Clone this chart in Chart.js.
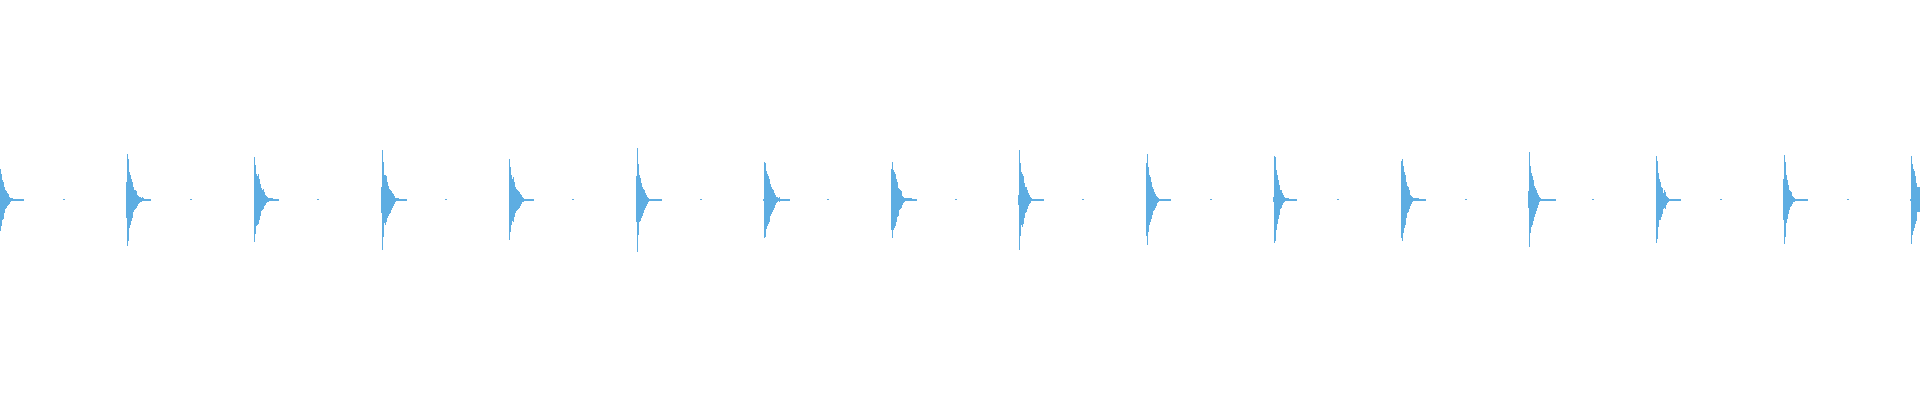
<!DOCTYPE html>
<html>
<head>
<meta charset="utf-8">
<script src="https://cdn.jsdelivr.net/npm/chart.js@4.4.1/dist/chart.umd.min.js"></script>
<style>
  html, body { margin: 0; padding: 0; background: #fff; }
  #wrap { width: 1920px; height: 400px; }
</style>
</head>
<body>
<div id="wrap"><canvas id="wave"></canvas></div>
<script>
const sampleCount = 1920;

// first column of every click
const clickStarts = [0, 126, 254, 381, 509, 636, 763, 891, 1018, 1146, 1273, 1401, 1528, 1656, 1783, 1910];

// level above zero (% of full scale), column by column after each click
const clickPeaks = [
  [15.5, 13, 10, 9, 6.5, 5, 4.5, 3.5, 3, 1.5, 1, 1, 1, 0.5, 0.5, 0.5, 0.5, 0.5, 0.5, 0.5, 0.5, 0.5, 0.5, 0.5],
  [9, 23, 20.5, 14, 12.5, 10.5, 9, 6.5, 5, 5, 4.5, 2.5, 2, 1.5, 1.5, 1, 1.5, 1, 0.5, 0.5, 0.5, 0.5, 0.5, 0.5, 0.5],
  [21.5, 17.5, 13, 12, 13, 10.5, 8, 6, 5, 5.5, 4, 2.5, 2, 1.5, 1, 1, 1, 1, 1, 0.5, 0.5, 0.5, 0.5, 0.5, 0.5],
  [6.5, 25, 19, 12.5, 12.5, 12, 9, 7, 5.5, 5, 4.5, 3.5, 3, 2, 1, 1, 1, 1, 0.5, 0.5, 0.5, 0.5, 0.5, 0.5, 0.5, 0.5],
  [20.5, 16.5, 12.5, 10.5, 11.5, 9, 6.5, 5.5, 5, 4.5, 4, 3, 2.5, 1.5, 1, 0.5, 0.5, 0.5, 0.5, 0.5, 0.5, 0.5, 0.5, 0.5, 0.5],
  [12, 26, 18, 12.5, 11, 8.5, 6.5, 5.5, 5, 3.5, 2.5, 1.5, 1, 0.5, 0.5, 0.5, 0.5, 0.5, 0.5, 0.5, 0.5, 0.5, 0.5, 0.5, 0.5, 0.5],
  [0.5, 19, 18.5, 14.5, 13, 12, 10.5, 8, 6.5, 5.5, 5, 3.5, 2.5, 1.5, 1.5, 1, 1.5, 0.5, 0.5, 0.5, 0.5, 0.5, 0.5, 0.5, 0.5, 0.5, 0.5],
  [15.5, 19, 15, 14, 13, 10.5, 9, 6, 5.5, 5, 4.5, 2, 1.5, 1, 1, 1, 1, 1, 1, 1, 1, 0.5, 0.5, 0.5, 0.5, 0.5],
  [2.5, 25, 18.5, 14, 13, 12, 8.5, 6.5, 6.5, 5, 3.5, 2.5, 1.5, 1, 0.5, 0.5, 0.5, 0.5, 0.5, 0.5, 0.5, 0.5, 0.5, 0.5, 0.5, 0.5],
  [18.5, 23, 16.5, 12.5, 11.5, 9, 6.5, 5.5, 4, 3, 2, 1.5, 1, 0.5, 0.5, 0.5, 0.5, 0.5, 0.5, 0.5, 0.5, 0.5, 0.5, 0.5, 0.5],
  [1.5, 22, 21.5, 15, 12.5, 10, 7.5, 5, 5, 3.5, 2.5, 1.5, 1, 1, 1, 1, 0.5, 0.5, 0.5, 0.5, 0.5, 0.5, 0.5, 0.5],
  [19.5, 20.5, 17, 14, 12.5, 9, 7, 6.5, 5, 2.5, 2, 1.5, 1, 1, 1, 1, 1, 1, 0.5, 0.5, 0.5, 0.5, 0.5, 0.5, 0.5],
  [4.5, 24, 17, 13.5, 12, 10, 7, 6, 5, 3.5, 2.5, 1.5, 1, 0.5, 0.5, 0.5, 0.5, 0.5, 0.5, 0.5, 0.5, 0.5, 0.5, 0.5, 0.5, 0.5, 0.5, 0.5],
  [22, 19.5, 13.5, 10.5, 9, 6.5, 6, 3.5, 5, 4, 2, 1.5, 1, 0.5, 0.5, 0.5, 0.5, 0.5, 0.5, 0.5, 0.5, 0.5, 0.5, 0.5, 0.5],
  [10.5, 22.5, 19, 12.5, 10, 7.5, 5, 4.5, 4, 2, 1.5, 1, 0.5, 0.5, 0.5, 0.5, 0.5, 0.5, 0.5, 0.5, 0.5, 0.5, 0.5, 0.5, 0.5],
  [0.5, 22, 18, 15.5, 14.5, 12, 8.5, 6.5, 6.5, 6.5],
];

// level below zero (% of full scale, as magnitudes)
const clickTroughs = [
  [15.5, 13, 10, 9.5, 6.5, 4.5, 4, 3, 2.5, 2, 1, 0.5, 0.5, 0.5, 0.5, 0.5, 0.5, 0.5, 0.5, 0.5, 0.5, 0.5, 0.5, 0.5],
  [9, 23, 20.5, 14, 12.5, 10.5, 9, 6, 5, 4.5, 4, 3, 2, 1.5, 1, 1, 0.5, 0.5, 0.5, 0.5, 0.5, 0.5, 0.5, 0.5, 0.5],
  [21, 17, 13, 12.5, 12, 10, 8, 5.5, 5, 4.5, 3, 2.5, 1.5, 1, 1, 0.5, 0.5, 0.5, 0.5, 0.5, 0.5, 0.5, 0.5, 0.5, 0.5],
  [6.5, 25, 18.5, 11.5, 12.5, 11, 9, 8, 7, 6.5, 5, 4, 3, 2, 1, 0.5, 0.5, 0.5, 0.5, 0.5, 0.5, 0.5, 0.5, 0.5, 0.5, 0.5],
  [20, 16, 12.5, 10.5, 11, 8.5, 6.5, 5.5, 5, 4.5, 4, 3, 2, 1, 1, 0.5, 0.5, 0.5, 0.5, 0.5, 0.5, 0.5, 0.5, 0.5, 0.5],
  [11, 26, 17.5, 11, 10.5, 9, 8, 6.5, 5, 4, 3, 2, 1, 0.5, 0.5, 0.5, 0.5, 0.5, 0.5, 0.5, 0.5, 0.5, 0.5, 0.5, 0.5, 0.5],
  [0.5, 19, 18.5, 14.5, 13, 12, 11, 8, 7, 6, 5, 4, 2.5, 1.5, 1, 0.5, 1, 0.5, 0.5, 0.5, 0.5, 0.5, 0.5, 0.5, 0.5, 0.5, 0.5],
  [15, 19, 15, 14, 13, 11, 8.5, 8, 5, 4.5, 4, 2.5, 1.5, 1, 0.5, 0.5, 0.5, 0.5, 0.5, 0.5, 0.5, 0.5, 0.5, 0.5, 0.5, 0.5],
  [2.5, 25, 18, 12.5, 13.5, 12, 9, 6.5, 6, 4.5, 3, 2, 1.5, 0.5, 0.5, 0.5, 0.5, 0.5, 0.5, 0.5, 0.5, 0.5, 0.5, 0.5, 0.5, 0.5],
  [18, 22.5, 16, 12.5, 11, 9.5, 7.5, 5.5, 5, 4, 3, 1.5, 1, 0.5, 0.5, 0.5, 0.5, 0.5, 0.5, 0.5, 0.5, 0.5, 0.5, 0.5, 0.5],
  [1, 21.5, 20.5, 15, 12, 9.5, 7.5, 4.5, 4, 2.5, 1.5, 1, 0.5, 0.5, 0.5, 0.5, 0.5, 0.5, 0.5, 0.5, 0.5, 0.5, 0.5, 0.5],
  [19, 20.5, 16.5, 14, 12.5, 9, 6.5, 6, 4.5, 3, 2, 1, 0.5, 0.5, 0.5, 0.5, 0.5, 0.5, 0.5, 0.5, 0.5, 0.5, 0.5, 0.5, 0.5],
  [4, 23.5, 16.5, 13.5, 12.5, 10.5, 8.5, 7, 5.5, 4, 2.5, 1, 0.5, 0.5, 0.5, 0.5, 0.5, 0.5, 0.5, 0.5, 0.5, 0.5, 0.5, 0.5, 0.5, 0.5, 0.5, 0.5],
  [21.5, 19.5, 13.5, 10, 10, 8.5, 7, 4.5, 4, 4.5, 2.5, 1.5, 1, 0.5, 0.5, 0.5, 0.5, 0.5, 0.5, 0.5, 0.5, 0.5, 0.5, 0.5, 0.5],
  [10, 22, 18.5, 11.5, 9.5, 7, 5, 3.5, 3, 2, 1, 1, 0.5, 0.5, 0.5, 0.5, 0.5, 0.5, 0.5, 0.5, 0.5, 0.5, 0.5, 0.5, 0.5],
  [0.5, 22, 17.5, 15.5, 14, 12, 10.5, 6, 6, 6],
];

// tiny off-beat ticks between clicks
const blipStarts = [63, 190, 317, 445, 572, 700, 827, 955, 1082, 1210, 1337, 1465, 1592, 1720, 1847];
const blipPeaks = [0.5, 0.5];
const blipTroughs = [0, 0];

function buildWave() {
  const data = new Array(sampleCount).fill(null);
  const put = (start, peaks, troughs) => {
    peaks.forEach((p, i) => {
      const x = start + i;
      if (x >= 0 && x < sampleCount) data[x] = [-troughs[i], p];
    });
  };
  blipStarts.forEach((s) => put(s, blipPeaks, blipTroughs));
  clickStarts.forEach((s, k) => put(s, clickPeaks[k], clickTroughs[k]));
  return data;
}

const labels = Array.from({ length: sampleCount }, (_, i) => i);

new Chart(document.getElementById('wave').getContext('2d'), {
  type: 'bar',
  data: {
    labels,
    datasets: [{
      label: 'waveform',
      data: buildWave(),
      backgroundColor: '#5DADE2',
      borderWidth: 0,
      inflateAmount: 0,
      barPercentage: 1,
      categoryPercentage: 1,
    }],
  },
  options: {
    responsive: true,
    maintainAspectRatio: false,
    animation: false,
    layout: { padding: 0 },
    plugins: {
      legend: { display: false },
      tooltip: { enabled: false },
    },
    scales: {
      x: { display: false },
      y: { display: false, min: -100, max: 100 },
    },
  },
});
</script>
</body>
</html>
